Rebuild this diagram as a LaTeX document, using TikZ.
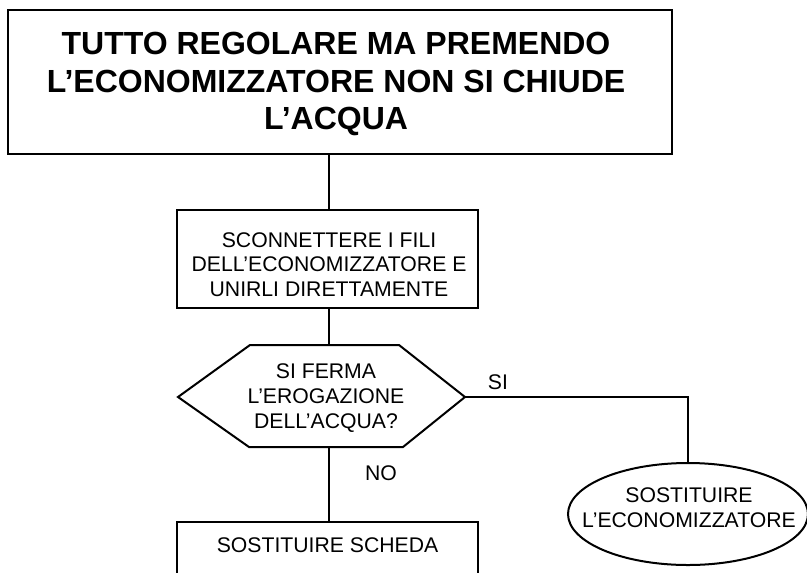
\documentclass[tikz,border=0pt]{standalone}
\usepackage{fontspec}
\setmainfont{Liberation Sans}
\usetikzlibrary{shapes.geometric}
\begin{document}
\begin{tikzpicture}[x=0.75pt,y=-0.75pt,
  ln/.style={line width=1.5pt},
  shapebox/.style={draw, line width=1.5pt, inner sep=0pt},
  lbl/.style={font=\fontsize{15.9}{18.6}\selectfont, inner sep=0pt, align=center}]
\useasboundingbox (0,0) rectangle (807,572);
\clip (0,0) rectangle (807,572);
% title
\node[shapebox, line width=1.9pt, minimum width=498pt, minimum height=108pt] (title) at (340,82) {};
\node[inner sep=0pt, align=center, font=\bfseries\fontsize{24}{28.1}\selectfont] (titletxt) at (336,84)
  {TUTTO REGOLARE MA PREMENDO\\L’ECONOMIZZATORE NON SI CHIUDE\\L’ACQUA};
% second box
\node[shapebox, minimum width=225.75pt, minimum height=73.5pt] (step2) at (327.5,259) {};
\node[lbl] (step2txt) at (329,264.5)
  {SCONNETTERE I FILI\\DELL’ECONOMIZZATORE E\\UNIRLI DIRETTAMENTE};
% hexagon decision
\coordinate (qleft) at (178,397);
\coordinate (qright) at (465,397);
\draw[ln, line join=miter] (qleft) -- (250,345) -- (399,345) -- (qright) -- (403,447) -- (249,447) -- cycle;
\node[lbl] (q) at (326,398) {SI FERMA\\L’EROGAZIONE\\DELL’ACQUA?};
\coordinate (qtop) at (329,345);
\coordinate (qbot) at (329,447);
% ellipse
\node[ellipse, shapebox, minimum width=180pt, minimum height=76.5pt] (sost) at (688,514) {};
\node[lbl] (sosttxt) at (689,508) {SOSTITUIRE\\L’ECONOMIZZATORE};
% bottom box
\node[shapebox, minimum width=225.75pt, minimum height=75pt, anchor=north] (sched) at (327.5,521) {};
\node[lbl] (schedtxt) at (327.5,545) {SOSTITUIRE SCHEDA};
% labels
\node[lbl] (si) at (498,382) {SI};
\node[lbl] (no) at (381,473) {NO};
% connectors
\draw[ln] (qtop |- title.south) -- (qtop |- step2.north);
\draw[ln] (qtop |- step2.south) -- (qtop);
\draw[ln] (qbot) -- (qbot |- sched.north);
\draw[ln] (qright) -- (qright -| sost.north) -- (sost.north);
\end{tikzpicture}
\end{document}
